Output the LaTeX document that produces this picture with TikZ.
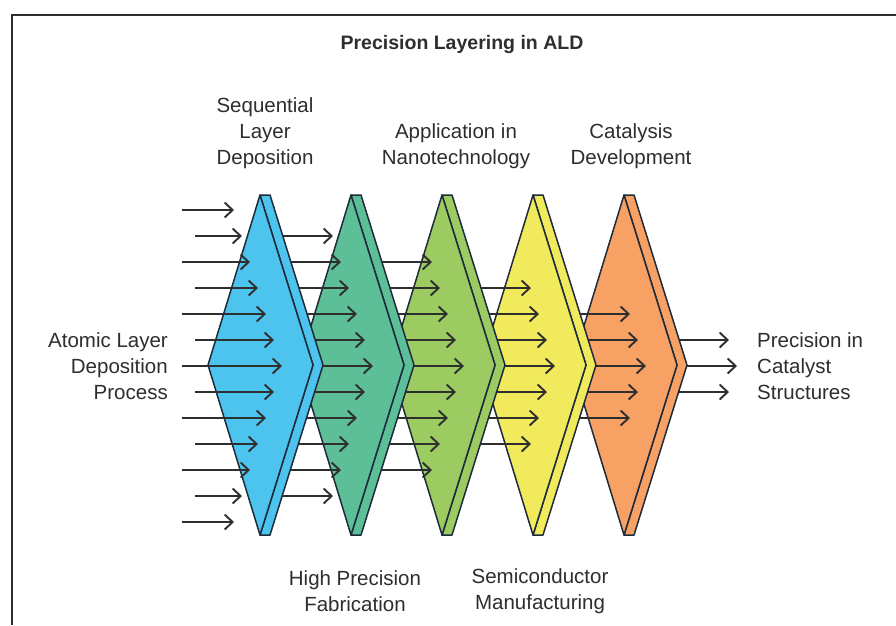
\documentclass[tikz,border=0pt]{standalone}
\usepackage{fontspec}
\setmainfont{Liberation Sans}
\usetikzlibrary{arrows.meta}
\definecolor{ink}{HTML}{2E2E2E}
\definecolor{edge}{HTML}{1E2B3A}
\definecolor{cA}{HTML}{4DC4EE}
\definecolor{cB}{HTML}{5CBF98}
\definecolor{cC}{HTML}{9CCB62}
\definecolor{cD}{HTML}{F1EA5C}
\definecolor{cE}{HTML}{F7A165}
\newcommand\myLayer[2]{%
  \path[plate, fill=#2] (#1,195) -- ++(10,0) -- ++(53,170) -- ++(-53,170) -- ++(-10,0) -- ++(53,-170) -- cycle;
  \path[plate, fill=#2] (#1,195) -- ++(53,170) -- ++(-53,170) -- ++(-52,-170) -- cycle;
}
\newcommand\myArrows[1]{%
  \pgfmathtruncatemacro\nn{6-#1}%
  \pgfmathtruncatemacro\lo{-(6-#1)}%
  \foreach \j in {\lo,...,\nn}{%
    \pgfmathsetmacro\yy{366+26*\j}%
    \pgfmathsetmacro\tx{282-8*abs(\j)+91*#1}%
    \ifnum#1=0
      \pgfmathsetmacro\sx{182+13*isodd(abs(\j))}%
    \else
      \pgfmathsetmacro\sx{260+91*(#1-1)+15}%
    \fi
    \coordinate (s#1\j) at (\sx,\yy);
    \coordinate (t#1\j) at (\tx,\yy);
    \draw[flow] (s#1\j) -- (t#1\j);
  }%
}
\begin{document}
\begin{tikzpicture}[x=1pt,y=-1pt,
  flow/.style={line width=1.9pt, draw=ink, -{Straight Barb[length=8pt,width=15pt]}},
  plate/.style={line width=1.5pt, draw=edge, line join=round},
  lbl/.style={text=ink, font=\fontsize{20.5}{26}\selectfont, inner sep=0pt, align=center},
  ttl/.style={text=ink, font=\fontsize{19.5}{24}\selectfont\bfseries, inner sep=0pt}
]
\useasboundingbox (0,0) rectangle (896,625);
\fill[white] (0,0) rectangle (896,625);
\draw[line width=2pt, ink] (12,625) -- (12,15) -- (896,15);

\node[ttl] (title) at (462,44) {Precision Layering in ALD};

% layers, drawn right to left with arrow groups in between
\myArrows{5}
\myLayer{624}{cE}
\myArrows{4}
\myLayer{533}{cD}
\myArrows{3}
\myLayer{442}{cC}
\myArrows{2}
\myLayer{351}{cB}
\myArrows{1}
\myLayer{260}{cA}
\myArrows{0}

\node[lbl] (seq) at (265,133) {Sequential\\Layer\\Deposition};
\node[lbl] (app) at (456,146) {Application in\\Nanotechnology};
\node[lbl] (cat) at (631,146) {Catalysis\\Development};
\node[lbl, align=right, anchor=east] (ald) at (168,366) {Atomic Layer\\Deposition\\Process};
\node[lbl, align=left, anchor=west] (out) at (757,366) {Precision in\\Catalyst\\Structures};
\node[lbl] (hpf) at (355,591) {High Precision\\Fabrication};
\node[lbl] (semi) at (540,591) {Semiconductor\\Manufacturing};
\end{tikzpicture}
\end{document}
